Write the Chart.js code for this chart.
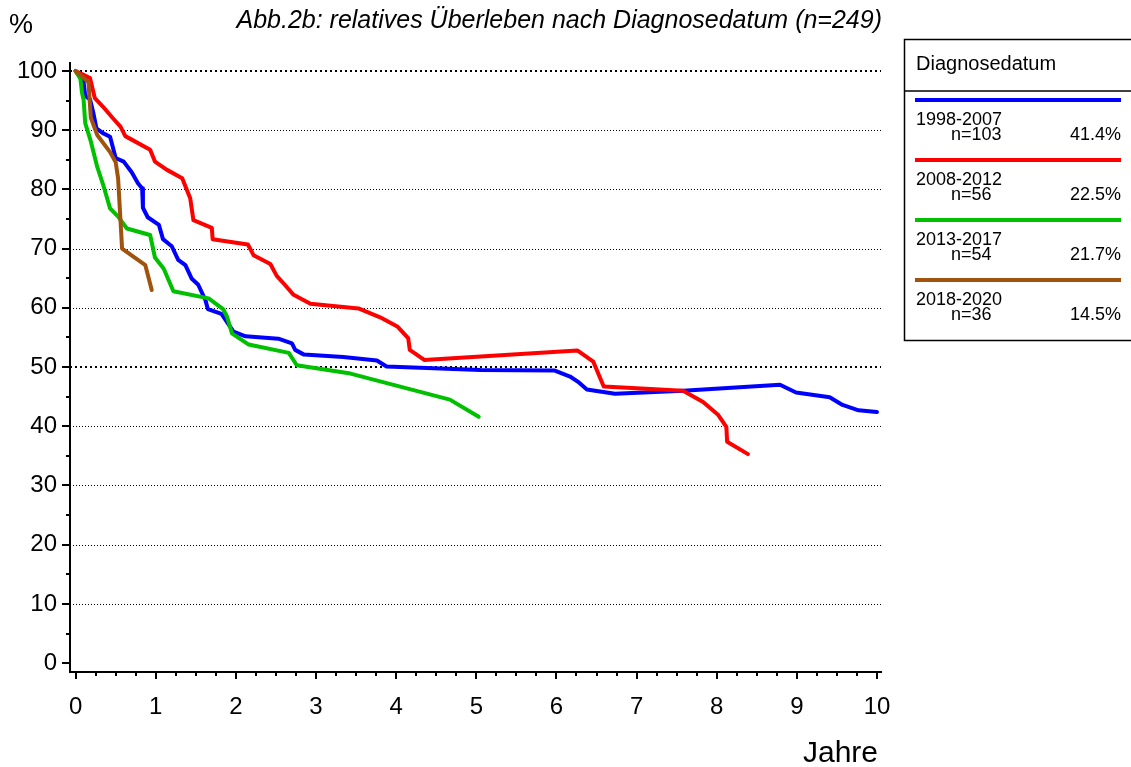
<!DOCTYPE html>
<html>
<head>
<meta charset="utf-8">
<title>Abb.2b relatives Überleben</title>
<script src="https://cdn.jsdelivr.net/npm/chart.js@4.4.1/dist/chart.umd.min.js"></script>
<style>
  body { margin: 0; background: #fff; }
  canvas { display: block; }
</style>
</head>
<body>
<canvas id="survChart" width="1131" height="767"></canvas>
<script>
// Survival curves (years after diagnosis / relative survival in %)
const blueT = [0, 0.10, 0.12, 0.18, 0.22, 0.26, 0.34, 0.43, 0.50, 0.60, 0.70, 0.78, 0.83, 0.84, 0.90, 1.04, 1.09, 1.20, 1.28, 1.37, 1.45, 1.53, 1.62, 1.65, 1.82, 1.97, 2.12, 2.53, 2.70, 2.74, 2.85, 3.34, 3.76, 3.88, 5.05, 5.98, 6.17, 6.27, 6.38, 6.73, 7.58, 8.79, 8.99, 9.41, 9.57, 9.77, 10.0];
const blueS = [100, 98.1, 95.8, 95.2, 93.0, 90.3, 89.5, 88.9, 85.3, 84.7, 82.9, 81.0, 80.2, 76.9, 75.3, 74.0, 71.6, 70.4, 68.1, 67.2, 64.9, 63.9, 61.3, 59.8, 59.0, 56.0, 55.2, 54.8, 54.0, 52.9, 52.1, 51.7, 51.1, 50.1, 49.5, 49.4, 48.4, 47.5, 46.2, 45.5, 46.0, 47.0, 45.7, 44.9, 43.6, 42.7, 42.4];

const redT = [0, 0.18, 0.24, 0.34, 0.46, 0.56, 0.62, 0.93, 0.99, 1.14, 1.33, 1.43, 1.47, 1.70, 1.71, 2.15, 2.22, 2.43, 2.51, 2.61, 2.72, 2.93, 3.53, 3.80, 4.02, 4.15, 4.17, 4.35, 6.26, 6.46, 6.59, 7.58, 7.83, 8.02, 8.12, 8.13, 8.39];
const redS = [100, 98.8, 95.4, 94.0, 92.1, 90.6, 89.0, 86.7, 84.7, 83.3, 81.9, 78.5, 74.8, 73.5, 71.6, 70.7, 68.9, 67.4, 65.4, 63.9, 62.2, 60.7, 59.9, 58.4, 56.8, 54.9, 52.9, 51.2, 52.8, 50.9, 46.7, 46.0, 44.1, 41.9, 39.9, 37.4, 35.3];

const greenT = [0, 0.06, 0.08, 0.10, 0.12, 0.19, 0.27, 0.35, 0.43, 0.53, 0.64, 0.93, 0.99, 1.10, 1.22, 1.66, 1.84, 1.89, 1.95, 2.16, 2.66, 2.76, 3.43, 4.67, 5.03];
const greenS = [100, 98.7, 96.3, 95.1, 91.2, 88.1, 83.8, 80.5, 76.8, 75.4, 73.4, 72.3, 68.5, 66.6, 62.8, 61.6, 59.8, 58.5, 55.7, 53.8, 52.4, 50.3, 48.9, 44.5, 41.6];

const brownT = [0, 0.16, 0.19, 0.27, 0.43, 0.50, 0.53, 0.58, 0.87, 0.95];
const brownS = [100, 98.1, 92.1, 89.2, 86.3, 84.6, 81.9, 70.0, 67.2, 63.0];

// Legend content
const groups = ["1998-2007", "2008-2012", "2013-2017", "2018-2020"];
const counts = [103, 56, 54, 36];
const shares = [41.4, 22.5, 21.7, 14.5];
const colors = ["#0000ff", "#ff0000", "#00c000", "#a0520f"];

// Axis ticks
const xTicks = [0, 1, 2, 3, 4, 5, 6, 7, 8, 9, 10];
const yTicks = [0, 10, 20, 30, 40, 50, 60, 70, 80, 90, 100];
const yGrid = [10, 20, 30, 40, 50, 60, 70, 80, 90, 100];

const FONT = "'Liberation Sans', Arial, sans-serif";

function toPoints(xs, ys) {
    return xs.map((t, i) => ({ x: t, y: ys[i] }));
}

// gridlines, minor ticks, labels and the legend box
const frame = {
    id: "frame",
    beforeDatasetsDraw(chart) {
        const { ctx, chartArea, scales: { y } } = chart;
        ctx.save();
        ctx.strokeStyle = "#000";
        yGrid.forEach(v => {
            const bold = v === 50 || v === 100;
            const py = bold ? Math.round(y.getPixelForValue(v)) : Math.round(y.getPixelForValue(v)) + 0.5;
            ctx.lineWidth = bold ? 2 : 1;
            ctx.setLineDash(bold ? [2, 3] : [1, 2]);
            ctx.beginPath();
            ctx.moveTo(chartArea.left, py);
            ctx.lineTo(chartArea.right, py);
            ctx.stroke();
        });
        ctx.restore();
    },
    afterDraw(chart) {
        const { ctx, chartArea, scales: { x, y } } = chart;
        ctx.save();
        ctx.strokeStyle = "#000";
        ctx.lineWidth = 2;

        // y ticks: major every 10, minor every 5
        for (let v = 0; v <= 100; v += 5) {
            const py = Math.round(y.getPixelForValue(v));
            const len = v % 10 === 0 ? 8 : 4;
            ctx.beginPath();
            ctx.moveTo(chartArea.left, py);
            ctx.lineTo(chartArea.left - len, py);
            ctx.stroke();
        }
        // x ticks: major every year, minor every quarter
        for (let i = 0; i <= 40; i++) {
            const px = Math.round(x.getPixelForValue(i / 4));
            const len = i % 4 === 0 ? 7 : 4;
            ctx.beginPath();
            ctx.moveTo(px, chartArea.bottom);
            ctx.lineTo(px, chartArea.bottom + len);
            ctx.stroke();
        }

        // texts
        ctx.fillStyle = "#000";
        ctx.textBaseline = "alphabetic";
        ctx.font = "italic 25px " + FONT;
        ctx.textAlign = "right";
        ctx.fillText("Abb.2b: relatives Überleben nach Diagnosedatum (n=249)", 882, 28);
        ctx.textAlign = "left";
        ctx.font = "27px " + FONT;
        ctx.fillText("%", 9, 33);
        ctx.textAlign = "right";
        ctx.font = "30px " + FONT;
        ctx.fillText("Jahre", 878, 762);

        // legend box
        ctx.lineWidth = 1.5;
        ctx.strokeRect(904.5, 39.5, 240, 301);
        ctx.beginPath();
        ctx.moveTo(904, 91);
        ctx.lineTo(1131, 91);
        ctx.stroke();
        ctx.textAlign = "left";
        ctx.font = "20px " + FONT;
        ctx.fillText("Diagnosedatum", 916, 70);

        groups.forEach((g, i) => {
            const top = 100 + i * 60;
            ctx.strokeStyle = colors[i];
            ctx.lineWidth = 4;
            ctx.beginPath();
            ctx.moveTo(915, top);
            ctx.lineTo(1121, top);
            ctx.stroke();
            ctx.font = "18px " + FONT;
            ctx.textAlign = "left";
            ctx.fillText(g, 916, top + 25);
            ctx.fillText("n=" + counts[i], 951, top + 40);
            ctx.textAlign = "right";
            ctx.fillText(shares[i].toFixed(1) + "%", 1121, top + 40);
        });
        ctx.restore();
    }
};

const datasets = [
    { label: groups[0], data: toPoints(blueT, blueS), borderColor: colors[0], order: 4 },
    { label: groups[1], data: toPoints(redT, redS), borderColor: colors[1], order: 3 },
    { label: groups[2], data: toPoints(greenT, greenS), borderColor: colors[2], order: 2 },
    { label: groups[3], data: toPoints(brownT, brownS), borderColor: colors[3], order: 1 }
].map(d => Object.assign(d, {
    borderWidth: 4,
    pointRadius: 0,
    tension: 0,
    fill: false,
    borderJoinStyle: "round",
    borderCapStyle: "round"
}));

new Chart(document.getElementById("survChart"), {
    type: "line",
    data: { datasets: datasets },
    options: {
        responsive: false,
        animation: false,
        layout: { padding: { left: 0, top: 63, right: 250, bottom: 0 } },
        plugins: {
            legend: { display: false },
            tooltip: { enabled: false }
        },
        scales: {
            x: {
                type: "linear",
                min: -0.07,
                max: 10.05,
                afterFit: s => { s.height = 95; },
                afterBuildTicks: s => { s.ticks = xTicks.map(v => ({ value: v })); },
                grid: { display: false, drawTicks: false },
                border: { display: true, color: "#000", width: 2 },
                ticks: {
                    color: "#000",
                    font: { family: FONT, size: 24 },
                    padding: 21,
                    maxRotation: 0,
                    autoSkip: false
                }
            },
            y: {
                type: "linear",
                min: -1.5,
                max: 101.35,
                afterFit: s => { s.width = 70; },
                afterBuildTicks: s => { s.ticks = yTicks.map(v => ({ value: v })); },
                grid: { display: false, drawTicks: false },
                border: { display: true, color: "#000", width: 2 },
                ticks: {
                    color: "#000",
                    font: { family: FONT, size: 24 },
                    padding: 13,
                    autoSkip: false
                }
            }
        }
    },
    plugins: [frame]
});
</script>
</body>
</html>
